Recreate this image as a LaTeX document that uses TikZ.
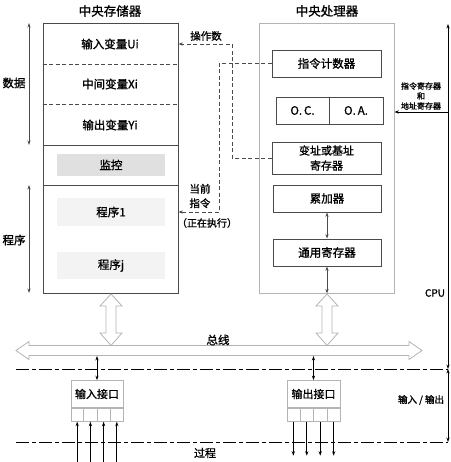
\documentclass[tikz,border=0pt]{standalone}
\usepackage{fontspec}
\setmainfont{Noto Sans CJK SC}[FakeBold=1.2]
\usetikzlibrary{arrows.meta,calc}
\definecolor{dk}{HTML}{4A4A4A}
\definecolor{lg}{HTML}{B4B4B4}
\definecolor{hl}{HTML}{E0E0E0}
\definecolor{vl}{HTML}{F3F3F3}
\begin{document}
\begin{tikzpicture}[x=1pt,y=-1pt,
  line width=0.8pt,
  membox/.style={draw=dk, inner sep=0pt},
  cpubox/.style={draw=lg, inner sep=0pt},
  regbox/.style={draw=dk, inner sep=0pt, font=\fontsize{11.5}{14}\selectfont, align=center},
  shade1/.style={fill=hl, inner sep=0pt, font=\fontsize{11.5}{14}\selectfont},
  shade2/.style={fill=vl, inner sep=0pt, font=\fontsize{11.5}{14}\selectfont},
  lbl/.style={inner sep=0pt, font=\fontsize{11.5}{14}\selectfont, align=center},
  title/.style={inner sep=0pt, font=\fontsize{12.5}{14}\selectfont},
  small/.style={inner sep=0pt, font=\fontsize{8}{10}\selectfont, align=center},
  iobox/.style={draw=lg, inner sep=0pt, font=\fontsize{11}{13}\selectfont},
  tip/.style={-{Stealth[length=4.5pt,width=3.2pt]}},
  dtip/.style={{Stealth[length=4.5pt,width=3.2pt]}-{Stealth[length=4.5pt,width=3.2pt]}},
  dsh/.style={dash pattern=on 4pt off 2.5pt, draw=dk},
  dashdot/.style={draw=black, dash pattern=on 13pt off 3pt on 4pt off 3pt},
  hollow/.style={draw=lg, fill=white, line width=0.8pt}
]
\useasboundingbox (0,0) rectangle (450,462);

% titles
\node[title] (t1) at (110,11) {中央存储器};
\node[title] (t2) at (327,11) {中央处理器};

% memory
\node[membox, minimum width=135pt, minimum height=270pt] (mem) at (110.5,158) {};
\draw[dsh] (mem.west |- 0,64) -- (mem.east |- 0,64);
\draw[dsh] (mem.west |- 0,104) -- (mem.east |- 0,104);
\draw[draw=dk] (mem.west |- 0,145) -- (mem.east |- 0,145);
\draw[draw=dk] (mem.west |- 0,185) -- (mem.east |- 0,185);
\node[lbl] (ui) at (110,44) {输入变量Ui};
\node[lbl] (xi) at (110,84) {中间变量Xi};
\node[lbl] (yi) at (110,125) {输出变量Yi};
\node[shade1, minimum width=108pt, minimum height=22pt] (mon) at (111,165) {监控};
\node[shade2, minimum width=108pt, minimum height=28pt] (p1) at (111,212) {程序1};
\node[shade2, minimum width=108pt, minimum height=27pt] (pj) at (111,265.5) {程序j};

% left arrows
\coordinate (d1) at (29,23);
\coordinate (d2) at (29,145);
\coordinate (q1) at (29,185);
\coordinate (q2) at (29,293);
\draw[dtip, draw=dk] (d1) -- (d2);
\draw[dtip, draw=dk] (q1) -- (q2);
\node[lbl] (data) at (14,83) {数据};
\node[lbl] (prog) at (14,240) {程序};

% cpu
\node[cpubox, minimum width=135pt, minimum height=270pt] (cpu) at (326.5,158) {};
\node[regbox, minimum width=109pt, minimum height=27pt] (pc) at (326.5,63.5) {指令计数器};
\node[regbox, minimum width=53pt, minimum height=27pt] (oc) at (302.5,110.5) {O.\,C.};
\node[regbox, minimum width=54pt, minimum height=27pt] (oa) at (356,110.5) {O.\,A.};
\node[regbox, minimum width=109pt, minimum height=32pt, font=\fontsize{11}{15}\selectfont] (vaddr) at (326.5,158) {变址或基址\\寄存器};
\node[regbox, minimum width=108pt, minimum height=27pt] (acc) at (327,198.5) {累加器};
\node[regbox, minimum width=108pt, minimum height=27pt] (gr) at (327,252.5) {通用寄存器};
\draw[dtip, draw=dk] (acc.south) -- (gr.north);
\draw[dtip, draw=dk] (gr.south) -- (gr.south |- cpu.south);

% dashed connectors
\coordinate (opc) at (232,44);
\coordinate (cic) at (219,212);
\draw[dsh, tip] (vaddr.west) -| (opc) -- (mem.east |- opc);
\draw[dsh, tip] (pc.west) -| (cic) -- (mem.east |- cic);
\node[lbl, font=\fontsize{10.5}{13}\selectfont] (opl) at (206,36) {操作数};
\node[lbl, font=\fontsize{10.5}{14.5}\selectfont] (cil) at (200,196) {当前\\指令};
\node[lbl, font=\fontsize{10}{12}\selectfont] (exl) at (207,223) {（正在执行）};

% right side
\coordinate (cputop) at (448,24);
\coordinate (iotop) at (448,369);
\coordinate (iobot) at (448,442);
\coordinate (irr) at (448,112);
\draw[dtip] (cputop) -- (iotop);
\draw[dtip] (iotop) -- (iobot);
\draw[tip] (irr) -- (cpu.east |- irr);
\node[small] (irl) at (421,96) {指令寄存器\\和\\地址寄存器};
\node[lbl, font=\fontsize{10}{12}\selectfont] (cpul) at (435,293) {CPU};
\node[lbl, font=\fontsize{9.5}{12}\selectfont] (iol) at (421,400) {输入 / 输出};

% bus
\draw[hollow] (16,350.5) -- (29,341.5) -- (29,345.5) -- (409,345.5) -- (409,341.5) -- (422,350.5) -- (409,359.5) -- (409,355.5) -- (29,355.5) -- (29,359.5) -- cycle;
\draw[hollow] (111,294) -- (122,306) -- (116,306) -- (116,333) -- (122,333) -- (111,345.5) -- (100,333) -- (106,333) -- (106,306) -- (100,306) -- cycle;
\draw[hollow] (327,294) -- (338,306) -- (332,306) -- (332,333) -- (338,333) -- (327,345.5) -- (316,333) -- (322,333) -- (322,306) -- (316,306) -- cycle;
\node[lbl] (busl) at (218,340) {总线};

% separators
\coordinate (s1a) at (16,369);
\coordinate (s2a) at (16,442);
\draw[dashdot] (s1a) -- (iotop);
\draw[dashdot] (s2a) -- (iobot);

% interfaces
\node[iobox, minimum width=52pt, minimum height=27pt] (inif) at (97,394) {输入接口};
\node[iobox, minimum width=52pt, minimum height=13pt, anchor=north] (inc) at (inif.south) {};
\foreach \i in {1,2,3} \draw[draw=lg] ($(inc.south west)!\i/4!(inc.south east)$) -- ($(inc.north west)!\i/4!(inc.north east)$);
\node[iobox, minimum width=53pt, minimum height=27pt] (outif) at (313.5,394) {输出接口};
\node[iobox, minimum width=53pt, minimum height=13pt, anchor=north] (outc) at (outif.south) {};
\foreach \i in {1,2,3} \draw[draw=lg] ($(outc.south west)!\i/4!(outc.south east)$) -- ($(outc.north west)!\i/4!(outc.north east)$);

\coordinate (bi) at (97,356);
\coordinate (bo) at (313.5,356);
\draw[dtip] (bi) -- (inif.north);
\draw[dtip] (bo) -- (outif.north);

\foreach \i in {1,3,5,7} {
  \coordinate (ia\i) at ($(inc.south west)!\i/8!(inc.south east)$);
  \coordinate (ib\i) at ($(ia\i)+(0,42)$);
  \draw[tip] (ib\i) -- (ia\i);
  \coordinate (oa\i) at ($(outc.south west)!\i/8!(outc.south east)$);
  \coordinate (ob\i) at ($(oa\i)+(0,34)$);
  \draw[tip] (oa\i) -- (ob\i);
}
\node[lbl, font=\fontsize{11}{13}\selectfont] (procl) at (205,453) {过程};
\end{tikzpicture}
\end{document}
